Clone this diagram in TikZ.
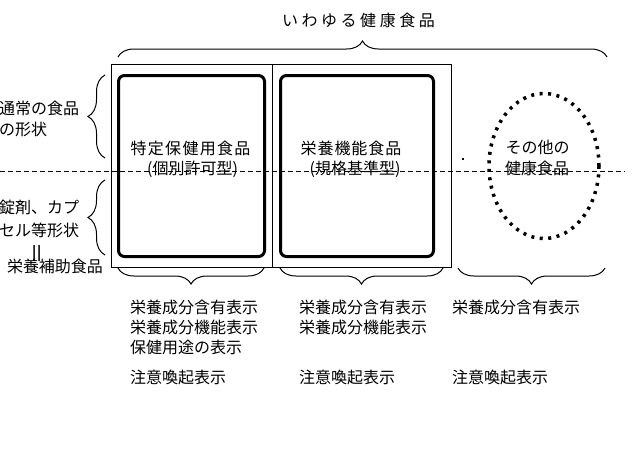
\documentclass[tikz,border=0pt]{standalone}
\usepackage{fontspec}
\setmainfont{Noto Sans CJK JP}
\usetikzlibrary{decorations.pathreplacing,shapes.geometric}
\tikzset{
  jptext/.style={font=\fontsize{16}{18}\selectfont, inner sep=0pt},
  bracetop/.style={decorate, decoration={brace, amplitude=16pt}, line width=1pt},
  bracebottom/.style={decorate, decoration={brace, mirror, amplitude=16pt}, line width=1pt},
  braceside/.style={decorate, decoration={brace, amplitude=17pt}, line width=1pt},
  panel/.style={draw, line width=1pt, minimum height=203pt, inner sep=0pt},
  foodbox/.style={draw, line width=3pt, rounded corners=6pt, minimum height=181pt, inner sep=0pt},
  midline/.style={line width=1pt, dash pattern=on 5pt off 3pt}
}
\begin{document}
\begin{tikzpicture}[x=1pt,y=-1pt]
\useasboundingbox (0,0) rectangle (635,461);
%TITLE
\draw (358.5,20.5) node[jptext] (title) {\addfontfeature{LetterSpace=22}いわゆる健康食品};
\draw[bracetop] (118,57) -- (607,57);
%PANELS
\draw (191.5,165.5) node[panel, minimum width=161pt] (leftpanel) {};
\draw (361.5,165.5) node[panel, minimum width=179pt] (rightpanel) {};
\draw (191.5,166) node[foodbox, minimum width=146pt] (tokuho) {};
\draw (357,166) node[foodbox, minimum width=153pt] (kinou) {};
\draw (544,166) node[ellipse, draw, line width=3.5pt, dash pattern=on 3pt off 5.5pt,
  minimum width=110pt, minimum height=145pt] (sonota) {};
\fill (462,158) rectangle (464,160);
%BOX TEXTS
\draw (190.5,148.5) node[jptext] (tokuhoname) {\addfontfeature{LetterSpace=8}特定保健用食品};
\draw (192.5,169.5) node[jptext] (tokuhotype) {(個別許可型)};
\draw (351,148.5) node[jptext] (kinouname) {\addfontfeature{LetterSpace=6}栄養機能食品};
\draw (355,169.5) node[jptext] (kinoutype) {(規格基準型)};
\draw (537.5,147) node[jptext] (sonotaname) {その他の};
\draw (537,168) node[jptext] (sonotaname2) {健康食品};
%DASHED LINE
\draw[midline] (0,171) -- (625,171);
%LEFT SIDE
\draw[braceside] (105,158) -- (105,75);
\draw[braceside] (105,255) -- (105,180);
\draw (-1,108) node[jptext, anchor=west] (tsujo) {通常の食品};
\draw (-1,129.5) node[jptext, anchor=west] (tsujo2) {の形状};
\draw (-1,207.5) node[jptext, anchor=west] (jozai) {錠剤、カプ};
\draw (-1,230.5) node[jptext, anchor=west] (jozai2) {セル等形状};
\draw (40,253.5) node[jptext, font=\fontsize{22}{22}\selectfont, rotate=90] (equal) {＝};
\draw (55,266) node[jptext] (hojo) {栄養補助食品};
%BOTTOM BRACES
\draw[bracebottom] (118,268) -- (264,268);
\draw[bracebottom] (280,268) -- (443,268);
\draw[bracebottom] (458,268) -- (605,268);
%LABEL COLUMNS
\draw (130,307.5) node[jptext, anchor=west] (a1) {栄養成分含有表示};
\draw (130,327.5) node[jptext, anchor=west] (a2) {栄養成分機能表示};
\draw (130,347.5) node[jptext, anchor=west] (a3) {保健用途の表示};
\draw (130,377.5) node[jptext, anchor=west] (a4) {注意喚起表示};
\draw (299,307.5) node[jptext, anchor=west] (b1) {栄養成分含有表示};
\draw (299,327.5) node[jptext, anchor=west] (b2) {栄養成分機能表示};
\draw (299,377.5) node[jptext, anchor=west] (b4) {注意喚起表示};
\draw (452,307.5) node[jptext, anchor=west] (c1) {栄養成分含有表示};
\draw (452,377.5) node[jptext, anchor=west] (c4) {注意喚起表示};
\end{tikzpicture}
\end{document}
